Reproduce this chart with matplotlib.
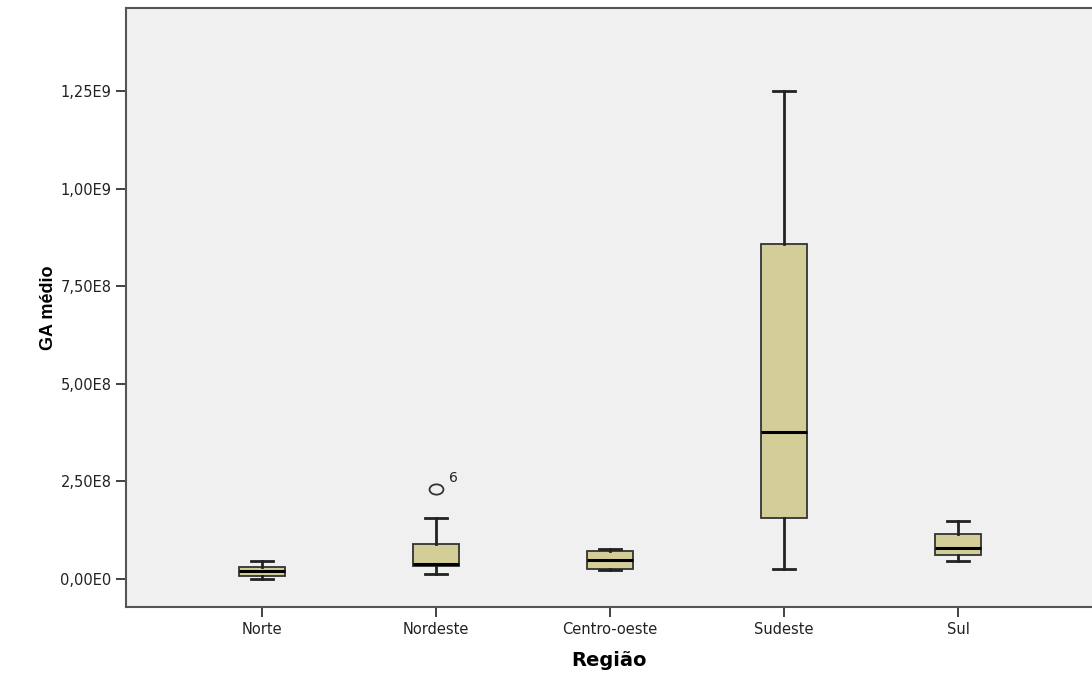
import numpy as np
import matplotlib.pyplot as plt
from matplotlib.path import Path
from matplotlib.transforms import Affine2D

regioes = ["Norte", "Nordeste", "Centro-oeste", "Sudeste", "Sul"]
# five-number summaries per region (in units of 1e9)
whislo = [0.000, 0.012, 0.023, 0.026, 0.046]
q1 = [0.008, 0.033, 0.026, 0.156, 0.062]
med = [0.020, 0.039, 0.049, 0.377, 0.079]
q3 = [0.031, 0.091, 0.072, 0.858, 0.115]
whishi = [0.047, 0.156, 0.076, 1.250, 0.148]
outliers = {"Nordeste": [(0.230, "6")]}

yticks = [0.0, 0.25, 0.5, 0.75, 1.0, 1.25]
ytick_labels = ["0,00E0", "2,50E8", "5,00E8", "7,50E8", "1,00E9", "1,25E9"]

stats = []
for i, r in enumerate(regioes):
    stats.append({
        "label": r,
        "whislo": whislo[i] * 1e9,
        "q1": q1[i] * 1e9,
        "med": med[i] * 1e9,
        "q3": q3[i] * 1e9,
        "whishi": whishi[i] * 1e9,
        "fliers": [v * 1e9 for v, _ in outliers.get(r, [])],
    })

plt.rcParams['font.family'] = ['DejaVu Sans']

# slightly flattened circle for the outlier marker
oval = Path.unit_circle().transformed(Affine2D().scale(1.35, 1.0))

fig = plt.figure(figsize=(10.92, 6.73), dpi=100)
ax = fig.add_axes([0.1154, 0.098, 0.8846, 0.89])
ax.set_facecolor("#F0F0F0")

pos = np.arange(1, len(regioes) + 1)
ax.bxp(stats, positions=pos, widths=0.26, patch_artist=True, showfliers=True,
       boxprops=dict(facecolor="#D3CE97", edgecolor="#333333", linewidth=1.3),
       medianprops=dict(color="black", linewidth=2.2),
       whiskerprops=dict(color="#222222", linewidth=2.0),
       capprops=dict(color="#222222", linewidth=2.0),
       capwidths=0.13,
       flierprops=dict(marker=oval, markersize=10, markerfacecolor="none",
                       markeredgecolor="#333333", markeredgewidth=1.3))

for r, pts in outliers.items():
    i = regioes.index(r)
    for v, lab in pts:
        ax.annotate(lab, (pos[i], v * 1e9), xytext=(9, 5), textcoords="offset points",
                    fontsize=10, color="#222222")

ax.set_xlim(0.218, 5.77)
ax.set_ylim(-0.0717e9, 1.4626e9)
ax.set_yticks([t * 1e9 for t in yticks])
ax.set_yticklabels(ytick_labels, fontsize=10.5)
ax.set_xticks(pos)
ax.set_xticklabels(regioes, fontsize=10.5)
ax.tick_params(axis="both", direction="out", length=7, width=1.3, color="#333333",
               labelcolor="#222222")

for s in ["left", "bottom", "top"]:
    ax.spines[s].set_color("#555555")
    ax.spines[s].set_linewidth(1.5)
ax.spines["right"].set_visible(False)

ax.set_xlabel("Região", fontsize=14, fontweight="bold", labelpad=10)
ax.set_ylabel("GA médio", fontsize=13, fontweight="bold", labelpad=2,
              family=["Liberation Sans"])

fig.savefig("out.png", dpi=100)
